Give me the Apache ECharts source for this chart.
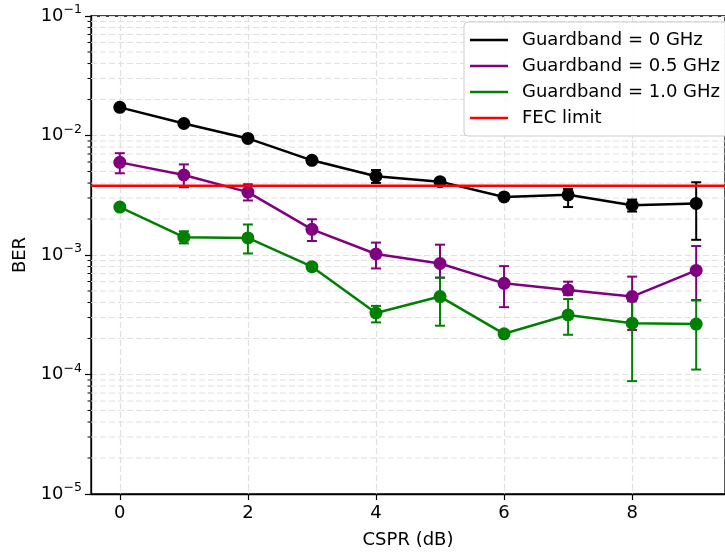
<!DOCTYPE html>
<html>
<head>
<meta charset="utf-8">
<script src="https://cdn.jsdelivr.net/npm/echarts@6/dist/echarts.min.js"></script>
<style>
  html, body { margin: 0; padding: 0; background: #fff; }
  #chart { width: 725px; height: 554px; }
</style>
</head>
<body>
<div id="chart"></div>
<script>
// CSPR sweep (dB)
const cspr = [0, 1, 2, 3, 4, 5, 6, 7, 8, 9];

// Guardband = 0 GHz
const ber0   = [1.72e-2, 1.26e-2, 9.45e-3, 6.2e-3, 4.56e-3, 4.11e-3, 3.06e-3, 3.19e-3, 2.61e-3, 2.70e-3];
const ber0Lo = [null, null, null, null, 4.01e-3, null, null, 2.52e-3, 2.31e-3, 1.34e-3];
const ber0Hi = [null, null, null, null, 5.14e-3, null, null, 3.57e-3, 2.91e-3, 4.06e-3];

// Guardband = 0.5 GHz
const ber05   = [5.96e-3, 4.67e-3, 3.36e-3, 1.64e-3, 1.02e-3, 8.49e-4, 5.79e-4, 5.1e-4, 4.49e-4, 7.43e-4];
const ber05Lo = [4.83e-3, 3.69e-3, 2.86e-3, 1.31e-3, 7.72e-4, 6.46e-4, 3.66e-4, 4.63e-4, 2.36e-4, 4.2e-4];
const ber05Hi = [7.11e-3, 5.73e-3, 3.91e-3, 1.99e-3, 1.27e-3, 1.22e-3, 8.07e-4, 5.98e-4, 6.59e-4, 1.19e-3];

// Guardband = 1.0 GHz
const ber10   = [2.52e-3, 1.41e-3, 1.39e-3, 7.98e-4, 3.27e-4, 4.49e-4, 2.19e-4, 3.15e-4, 2.69e-4, 2.64e-4];
const ber10Lo = [null, 1.25e-3, 1.03e-3, null, 2.73e-4, 2.56e-4, null, 2.15e-4, 8.8e-5, 1.1e-4];
const ber10Hi = [null, 1.58e-3, 1.8e-3, null, 3.75e-4, 6.46e-4, null, 4.28e-4, 4.1e-4, 4.16e-4];

const fecLimit = 3.8e-3;

// axis ticks
const xTicks = [0, 2, 4, 6, 8];
const decades = [-5, -4, -3, -2, -1];

const X_MIN = -0.45, X_MAX = 9.45;
const FONT = 'DejaVu Sans';
const GRID_COLOR = '#e0e0e0';

// minor log positions 2..9 x 10^k
const minorVals = [];
decades.slice(0, 4).forEach(function (k) {
  for (let m = 2; m <= 9; m++) minorVals.push(m * Math.pow(10, k));
});

function errData(lo, hi) {
  const out = [];
  cspr.forEach(function (x, i) {
    if (lo[i] != null && hi[i] != null) out.push([x, lo[i], hi[i]]);
  });
  return out;
}

function errSeries(name, color, lo, hi) {
  return {
    type: 'custom',
    name: name + ' err',
    data: errData(lo, hi),
    encode: { x: 0, y: [1, 2] },
    z: 3,
    silent: true,
    renderItem: function (params, api) {
      const x = api.value(0);
      const a = api.coord([x, api.value(1)]);
      const b = api.coord([x, api.value(2)]);
      const w = 5;
      const style = { stroke: color, lineWidth: 2, fill: null };
      return {
        type: 'group',
        children: [
          { type: 'line', shape: { x1: a[0], y1: a[1], x2: b[0], y2: b[1] }, style: style },
          { type: 'line', shape: { x1: a[0] - w, y1: a[1], x2: a[0] + w, y2: a[1] }, style: style },
          { type: 'line', shape: { x1: b[0] - w, y1: b[1], x2: b[0] + w, y2: b[1] }, style: style }
        ]
      };
    }
  };
}

function lineSeries(name, color, vals) {
  return {
    type: 'line',
    name: name,
    data: cspr.map(function (x, i) { return [x, vals[i]]; }),
    symbol: 'circle',
    symbolSize: 13,
    color: color,
    lineStyle: { color: color, width: 2.5 },
    itemStyle: { color: color },
    z: 4
  };
}

const chart = echarts.init(document.getElementById('chart'), null, { renderer: 'canvas' });

chart.setOption({
  animation: false,
  backgroundColor: '#fff',
  textStyle: { fontFamily: FONT },
  grid: { left: 91, right: -11.5, top: 16, bottom: 57, show: true, borderColor: '#000', borderWidth: 1.3, backgroundColor: 'transparent' },
  legend: {
    left: 464,
    top: 22,
    z: 20,
    orient: 'vertical',
    data: ['Guardband = 0 GHz', 'Guardband = 0.5 GHz', 'Guardband = 1.0 GHz', 'FEC limit'],
    icon: 'rect',
    itemWidth: 38,
    itemHeight: 2.5,
    itemGap: 6,
    padding: [8, 30, 8, 6],
    backgroundColor: 'rgba(255,255,255,0.9)',
    borderColor: '#cccccc',
    borderWidth: 1,
    borderRadius: 4,
    textStyle: { fontFamily: FONT, fontSize: 18, color: '#000', lineHeight: 20, padding: [0, 0, 0, 9] }
  },
  xAxis: {
    type: 'value',
    min: X_MIN,
    max: X_MAX,
    name: 'CSPR (dB)',
    nameLocation: 'middle',
    nameGap: 37,
    nameTextStyle: { fontFamily: FONT, fontSize: 18, color: '#000' },
    axisLine: { onZero: false, lineStyle: { color: '#000', width: 1.3 } },
    axisTick: { show: true, inside: false, length: 6, customValues: xTicks, lineStyle: { color: '#000', width: 1.2 } },
    axisLabel: { customValues: xTicks, margin: 10, fontFamily: FONT, fontSize: 18, color: '#000' },
    splitLine: { show: true, customValues: xTicks, lineStyle: { color: GRID_COLOR, type: [6, 3], width: 1.2 } }
  },
  yAxis: {
    type: 'log',
    logBase: 10,
    min: 1e-5,
    max: 1e-1,
    name: 'BER',
    nameLocation: 'middle',
    nameGap: 60,
    nameRotate: 90,
    nameTextStyle: { fontFamily: FONT, fontSize: 18, color: '#000' },
    axisLine: { show: true, onZero: false, lineStyle: { color: '#000', width: 1.3 } },
    axisTick: { show: true, length: 6, lineStyle: { color: '#000', width: 1.2 } },
    axisLabel: {
      margin: 9,
      fontFamily: FONT,
      formatter: function (v) {
        const e = Math.round(Math.log10(v));
        return '{b|10}{s|\u2212' + Math.abs(e) + '}';
      },
      rich: {
        b: { fontFamily: FONT, fontSize: 18, color: '#000' },
        s: { fontFamily: FONT, fontSize: 12.5, color: '#000', padding: [0, 0, 12, 0] }
      }
    },
    splitLine: { show: true, lineStyle: { color: GRID_COLOR, type: [6, 3], width: 1.2 } }
  },
  series: [
    {
      // minor log grid lines + minor ticks on the y axis
      type: 'custom',
      name: 'minor grid',
      data: minorVals.map(function (v) { return [X_MIN, v]; }),
      encode: { x: 0, y: 1 },
      clip: false,
      silent: true,
      z: 1,
      renderItem: function (params, api) {
        const v = api.value(1);
        const p = api.coord([X_MIN, v]);
        const q = api.coord([X_MAX, v]);
        return {
          type: 'group',
          children: [
            { type: 'line', shape: { x1: p[0], y1: p[1], x2: q[0], y2: q[1] }, style: { stroke: GRID_COLOR, lineWidth: 1, lineDash: [6, 3] } },
            { type: 'line', shape: { x1: p[0] - 3.5, y1: p[1], x2: p[0], y2: p[1] }, style: { stroke: '#000', lineWidth: 1 } }
          ]
        };
      }
    },
    errSeries('Guardband = 0 GHz', '#000000', ber0Lo, ber0Hi),
    errSeries('Guardband = 0.5 GHz', '#800080', ber05Lo, ber05Hi),
    errSeries('Guardband = 1.0 GHz', '#008000', ber10Lo, ber10Hi),
    lineSeries('Guardband = 0 GHz', '#000000', ber0),
    lineSeries('Guardband = 0.5 GHz', '#800080', ber05),
    lineSeries('Guardband = 1.0 GHz', '#008000', ber10),
    {
      type: 'line',
      name: 'FEC limit',
      data: [[X_MIN, fecLimit], [X_MAX, fecLimit]],
      symbol: 'none',
      color: '#ff0000',
      lineStyle: { color: '#ff0000', width: 2.5 },
      itemStyle: { color: '#ff0000' },
      silent: true,
      z: 5
    }
  ]
});
</script>
</body>
</html>
